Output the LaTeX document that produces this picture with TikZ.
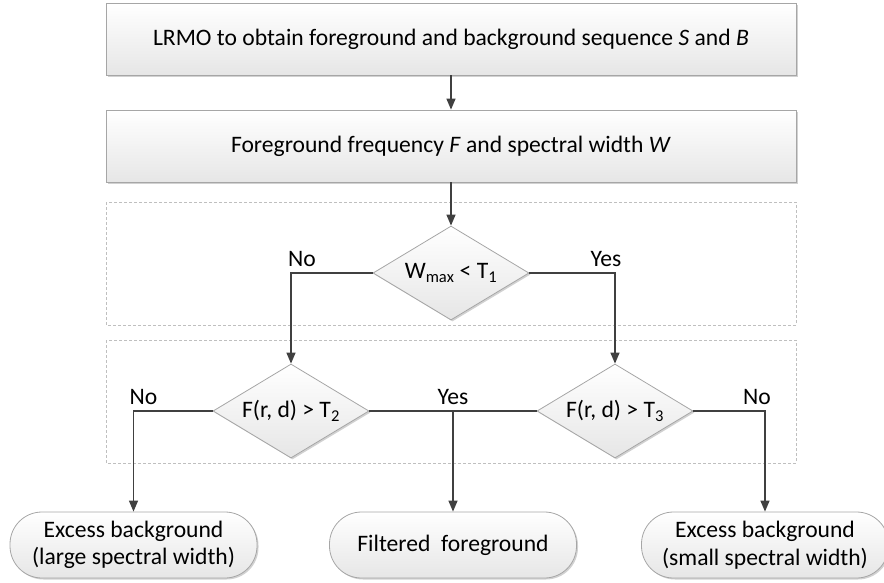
\documentclass[tikz,border=0pt]{standalone}
\usepackage{fontspec}
\setmainfont{Carlito}
\usetikzlibrary{arrows.meta,shapes.geometric,shadows}
\definecolor{edgegray}{HTML}{A6A6A6}
\definecolor{linegray}{HTML}{404040}
\definecolor{dashgray}{HTML}{BFBFBF}
\definecolor{fillbot}{HTML}{E6E6E6}
\tikzset{
  base/.style={draw=edgegray, line width=0.8pt, top color=white, bottom color=fillbot,
    inner sep=0pt, font=\fontsize{23.6}{27.5}\selectfont,
    drop shadow={shadow xshift=1.5pt, shadow yshift=-1.5pt, fill=black, opacity=0.18}},
  procbox/.style={base, rectangle, minimum width=690pt, minimum height=72pt},
  decision/.style={base, diamond, aspect=1.66, minimum width=156pt, minimum height=94pt},
  terminal/.style={base, rectangle, rounded corners=32pt, minimum width=247pt,
    minimum height=66pt, align=center},
  group/.style={draw=dashgray, line width=0.7pt, dash pattern=on 3pt off 2pt},
  flow/.style={draw=linegray, line width=1.3pt, -{Triangle[length=11pt,width=9pt]}},
  link/.style={draw=linegray, line width=1.3pt},
  lbl/.style={font=\fontsize{23.6}{27.5}\selectfont, anchor=base, inner sep=0pt},
}
\begin{document}
\begin{tikzpicture}[x=1pt,y=1pt]
\useasboundingbox (0,0) rectangle (884,-582);

% dashed grouping frames
\draw[group] (106,-202) rectangle (796,-325);
\draw[group] (106,-340) rectangle (796,-463);

% process steps
\node[procbox] (s1) at (451,-39) {LRMO to obtain foreground and background sequence \textit{S} and \textit{B}};
\node[procbox] (s2) at (451,-146) {Foreground frequency \textit{F} and spectral width \textit{W}};

% decisions
\node[decision] (d1) at (451,-273) {W\textsubscript{max} < T\textsubscript{1}};
\node[decision] (d2) at (291,-411) {F(r, d) > T\textsubscript{2}};
\node[decision] (d3) at (615,-411) {F(r, d) > T\textsubscript{3}};

% outcomes
\node[terminal] (t1) at (133.5,-545) {Excess background\\(large spectral width)};
\node[terminal] (t2) at (453,-545) {Filtered\ \ foreground};
\node[terminal] (t3) at (765,-545) {Excess background\\(small spectral width)};

% connectors
\draw[flow] (s1) -- (s2);
\draw[flow] (s2) -- (d1);
\draw[flow] (d1.west) -| (d2.north);
\draw[flow] (d1.east) -| (d3.north);
\draw[flow] (d2.west) -| (t1.north);
\draw[link] (d2.east) -- (d3.west);
\draw[flow] (d2.east -| t2.north) -- (t2.north);
\draw[flow] (d3.east) -| (t3.north);

% branch labels
\node[lbl] (n1) at (302,-266) {No};
\node[lbl] (y1) at (606,-266) {Yes};
\node[lbl] (n2) at (143.5,-404) {No};
\node[lbl] (y2) at (453,-404) {Yes};
\node[lbl] (n3) at (757,-404) {No};
\end{tikzpicture}
\end{document}
